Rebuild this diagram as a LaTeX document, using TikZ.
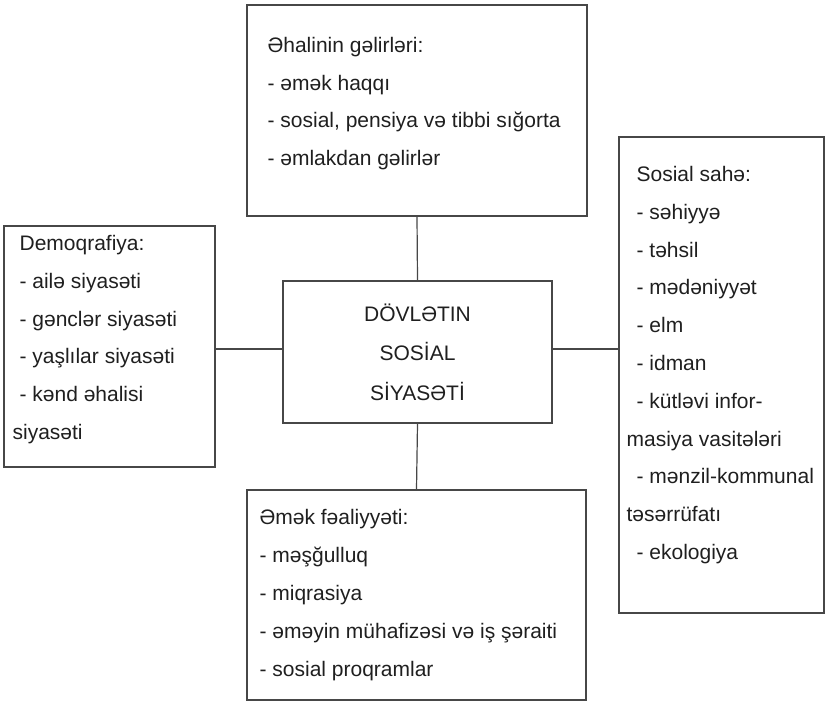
\documentclass[tikz,border=0pt]{standalone}
\usepackage{fontspec}
\setmainfont{Liberation Sans}
\usetikzlibrary{positioning}

\newcommand{\ind}{\hspace*{7pt}}

\begin{document}
\begin{tikzpicture}[x=1pt,y=-1pt,
  box/.style={draw=black!72,line width=1.2pt,inner sep=0pt},
  txt/.style={anchor=west,align=left,inner sep=0pt,text=black!88,
    font=\fontsize{21}{37.8}\selectfont},
  link/.style={draw=black!72,line width=1.2pt}]

\useasboundingbox (0,0) rectangle (827,701);

% Centre
\node[box,minimum width=269pt,minimum height=142pt,align=center,
  text=black!88,font=\fontsize{21}{39.5}\selectfont]
(state) at (417.5,352)
{DÖVLƏTIN\\SOSİAL\\SİYASƏTİ};

% Gəlirlər
\node[box,minimum width=340pt,minimum height=211pt]
(income) at (417,110.5) {};

\node[txt] (income-text)
at ([xshift=21pt,yshift=7pt]income.west)
{Əhalinin gəlirləri:\\
- əmək haqqı\\
- sosial, pensiya və tibbi sığorta\\
- əmlakdan gəlirlər};

% Demoqrafiya
\node[box,minimum width=211pt,minimum height=241pt]
(demo) at (109.5,346.5) {};

\node[txt] (demo-text)
at ([xshift=9pt,yshift=7pt]demo.west)
{\ind Demoqrafiya:\\
\ind - ailə siyasəti\\
\ind - gənclər siyasəti\\
\ind - yaşlılar siyasəti\\
\ind - kənd əhalisi\\
siyasəti};

% Sosial sahə
\node[box,minimum width=205pt,minimum height=476pt]
(social) at (721.5,375) {};

\node[txt] (social-text)
at ([xshift=8pt,yshift=10pt]social.west)
{\hspace*{10pt}Sosial sahə:\\
\hspace*{10pt}- səhiyyə\\
\hspace*{10pt}- təhsil\\
\hspace*{10pt}- mədəniyyət\\
\hspace*{10pt}- elm\\
\hspace*{10pt}- idman\\
\hspace*{10pt}- kütləvi infor-\\
masiya vasitələri\\
\hspace*{10pt}- mənzil-kommunal\\
təsərrüfatı\\
\hspace*{10pt}- ekologiya};

% Əmək
\node[box,minimum width=339pt,minimum height=210pt]
(labour) at (416.5,595) {};

\node[txt] (labour-text)
at ([xshift=13pt]labour.west)
{Əmək fəaliyyəti:\\
- məşğulluq\\
- miqrasiya\\
- əməyin mühafizəsi və iş şəraiti\\
- sosial proqramlar};

% Xətlər
\draw[link]
(income.south)
--
(state.north);

\draw[link]
(state.south)
--
(labour.north);

\draw[link]
([yshift=3pt]state.west)
--
([yshift=3pt]state.west -| demo.east);

\draw[link]
([yshift=3pt]state.east)
--
([yshift=3pt]state.east -| social.west);

\end{tikzpicture}
\end{document}
